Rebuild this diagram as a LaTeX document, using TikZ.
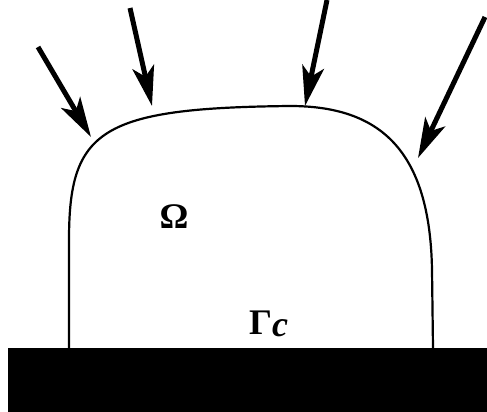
\documentclass[tikz,border=0pt]{standalone}
\usepackage{fontspec}
\setmainfont{Liberation Serif}
\usetikzlibrary{arrows.meta}
\tikzset{
  force/.style={line width=5pt,-{Stealth[length=40pt,width=22pt,inset=10pt]}},
  body/.style={line width=2.2pt,line join=round},
  lbl/.style={font=\fontsize{36}{40}\selectfont\bfseries,inner sep=0pt}
}
\begin{document}
\begin{tikzpicture}[x=1pt,y=-1pt]
\useasboundingbox (0,0) rectangle (487,412);
% ground
\fill[black] (8,348) rectangle (487,412);
% body
\draw[body] (69,348) -- (69,240) .. controls (69,130) and (100,108) .. (290,106)
  .. controls (380,106) and (430,150) .. (432,270) -- (433,348);
% arrows
\coordinate (t1) at (38,47);  \coordinate (h1) at (91,137);
\coordinate (t2) at (130,8);  \coordinate (h2) at (152,106);
\coordinate (t3) at (327,0);  \coordinate (h3) at (305,106);
\coordinate (t4) at (485,17); \coordinate (h4) at (418,158);
\draw[force] (t1) -- (h1);
\draw[force] (t2) -- (h2);
\draw[force] (t3) -- (h3);
\draw[force] (t4) -- (h4);
% labels
\node[lbl] (omega) at (174,217) {Ω};
\node[lbl,anchor=base west] (gamma) at (249,334) {Γ\raisebox{-2pt}{\textit{c}}};
\end{tikzpicture}
\end{document}
